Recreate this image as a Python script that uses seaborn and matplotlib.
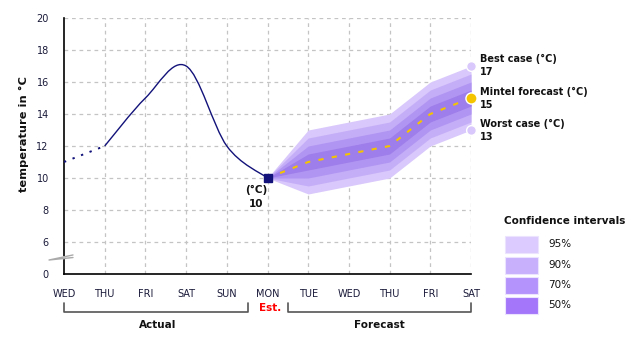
import numpy as np
import pandas as pd
import matplotlib
matplotlib.use("Agg")
import matplotlib.pyplot as plt
import seaborn as sns
from matplotlib.path import Path
from matplotlib.patches import PathPatch, Rectangle
from matplotlib.transforms import blended_transform_factory

# ---- data ----
days = ["WED", "THU", "FRI", "SAT", "SUN", "MON", "TUE", "WED", "THU", "FRI", "SAT"]
actual_days = [0, 1, 2, 3, 4, 5]
actual_temp = [11, 12, 15, 17, 12, 10]
forecast_days = [5, 6, 7, 8, 9, 10]
forecast_temp = [10, 11, 11.5, 12, 14, 15]
ci_labels = ["95%", "90%", "70%", "50%"]
ci_half_width = [2.0, 1.5, 1.0, 0.5]
ci_spread = [0, 1, 1, 1, 1, 1]          # band opens from zero at the estimate day
best_case = 17
worst_case = 13
y_ticks = [6, 8, 10, 12, 14, 16, 18, 20]

band_colors = ["#d9c8fb", "#c5aef8", "#b195f2", "#9e7eea"]
legend_colors = ["#dccbfe", "#c8b0fd", "#b593fc", "#a476fa"]
navy = "#12127a"
gold = "#f5c400"

sns.set_style("white")
plt.rcParams["font.family"] = ["DejaVu Sans"]

W, H = 642, 340
fig = plt.figure(figsize=(W / 100, H / 100), dpi=100)
ax = fig.add_axes([64 / W, 1 - 274 / H, 407 / W, 256 / H])

ax.set_xlim(0, 10)
ax.set_ylim(4, 20)

# grid
for t in y_ticks:
    ax.axhline(t, color="#c4c4c4", lw=0.9, ls=(0, (3, 3)), zorder=0)
for x in range(1, len(days)):
    ax.axvline(x, color="#c4c4c4", lw=0.9, ls=(0, (3, 3)), zorder=0)

# confidence bands
fd = np.array(forecast_days, dtype=float)
ft = np.array(forecast_temp, dtype=float)
sp = np.array(ci_spread, dtype=float)
for hw, col in zip(ci_half_width, band_colors):
    ax.fill_between(fd, ft - hw * sp, ft + hw * sp, color=col, lw=0, zorder=1)

# actual: dotted lead-in, then smooth curve
lead = pd.DataFrame({"x": actual_days[:2], "y": actual_temp[:2]})
sns.lineplot(data=lead, x="x", y="y", ax=ax, color=navy, lw=1.4,
             linestyle=(0, (1.2, 3.5)), zorder=3)

px = np.array(actual_days[1:], dtype=float)
py = np.array(actual_temp[1:], dtype=float)
P = np.column_stack([px, py])
Pext = np.vstack([P[0], P, P[-1]])
verts = [tuple(P[0])]
codes = [Path.MOVETO]
for i in range(len(P) - 1):
    p0, p1, p2, p3 = Pext[i], Pext[i + 1], Pext[i + 2], Pext[i + 3]
    c1 = p1 + (p2 - p0) / 6
    c2 = p2 - (p3 - p1) / 6
    verts += [tuple(c1), tuple(c2), tuple(p2)]
    codes += [Path.CURVE4] * 3
ax.add_patch(PathPatch(Path(verts, codes), fill=False, ec=navy, lw=1.0, zorder=3))

# forecast mean
fc = pd.DataFrame({"x": forecast_days, "y": forecast_temp})
sns.lineplot(data=fc, x="x", y="y", ax=ax, color=gold, lw=1.5,
             linestyle=(0, (2.5, 4)), zorder=4)

# markers
ax.plot([actual_days[-1]], [actual_temp[-1]], marker="s", ms=5.5, color=navy,
        zorder=6, clip_on=False)
ax.plot([10], [best_case], marker="o", ms=7, mfc=band_colors[0], mec="white",
        mew=1, zorder=6, clip_on=False)
ax.plot([10], [forecast_temp[-1]], marker="o", ms=8, mfc=gold, mec="white",
        mew=1, zorder=6, clip_on=False)
ax.plot([10], [worst_case], marker="o", ms=7, mfc=band_colors[0], mec="white",
        mew=1, zorder=6, clip_on=False)

# axes styling
for s in ["top", "right"]:
    ax.spines[s].set_visible(False)
for s in ["left", "bottom"]:
    ax.spines[s].set_color("black")
    ax.spines[s].set_linewidth(1.2)
ax.set_xticks(range(len(days)))
ax.set_xticklabels(days)
ax.set_yticks([4] + y_ticks)
ax.set_yticklabels(["0"] + [str(t) for t in y_ticks])
ax.tick_params(axis="both", direction="out", length=5, width=1, color="black",
               labelsize=7, labelcolor="#1a1a3a", pad=6)
ax.set_xlabel("")
ax.set_ylabel("")


def fy(py_):
    return 1 - py_ / H


fig.text(24 / W, fy(134), "temperature in °C", rotation=90, ha="center",
         va="center", fontsize=8.2, fontweight="bold", color="#111111")

# axis break mark
bx = blended_transform_factory(ax.transAxes, ax.transData)
zig_x = [9 / 407, -15 / 407, 9 / 407]
zig_y = [5.19, 4.875, 5.03]
ax.fill(zig_x, zig_y, color="white", transform=bx, clip_on=False, zorder=7)
ax.plot(zig_x, zig_y, color="#aaaaaa", lw=1, transform=bx, clip_on=False, zorder=8)

# annotation on last actual point
ax.text(4.72, 9.25, "(°C)", ha="center", va="center", fontsize=7.5,
        fontweight="bold", color="#111111")
ax.text(4.72, 8.4, "10", ha="center", va="center", fontsize=7.5,
        fontweight="bold", color="#111111")

# scenario labels on the right
for txt, ypix in [("Best case (°C)", 59), ("17", 72),
                  ("Mintel forecast (°C)", 92), ("15", 105),
                  ("Worst case (°C)", 124), ("13", 137)]:
    fig.text(480 / W, fy(ypix), txt, ha="left", va="center", fontsize=7,
             fontweight="bold", color="#111111")

# period brackets
bt = blended_transform_factory(ax.transData, fig.transFigure)
gray = "#555555"
for x0, x1 in [(0, 4.51), (5.51, 10)]:
    fig.lines.append(plt.Line2D([x0, x0, x1, x1], [fy(303), fy(312), fy(312), fy(303)],
                                transform=bt, color=gray, lw=1.2))
fig.text(2.3, fy(325), "Actual", transform=bt, ha="center", va="center",
         fontsize=7.5, fontweight="bold", color="#111111")
fig.text(7.75, fy(325), "Forecast", transform=bt, ha="center", va="center",
         fontsize=7.5, fontweight="bold", color="#111111")
fig.text(5.07, fy(308), "Est.", transform=bt, ha="center", va="center",
         fontsize=7.5, fontweight="bold", color="#ff0000")

# legend for confidence bands
fig.text(504 / W, fy(221), "Confidence intervals", ha="left", va="center",
         fontsize=7.5, fontweight="bold", color="#111111")
for lab, col, yc in zip(ci_labels, legend_colors, [244, 265, 285.5, 305.5]):
    fig.patches.append(Rectangle((505 / W, fy(yc + 8.5)), 33 / W, 17 / H,
                                 transform=fig.transFigure, fc=col,
                                 ec="#ece4ff", lw=0.8))
    fig.text(548 / W, fy(yc), lab, ha="left", va="center", fontsize=7.5,
             color="#111111")

fig.savefig("out.png", dpi=100)
